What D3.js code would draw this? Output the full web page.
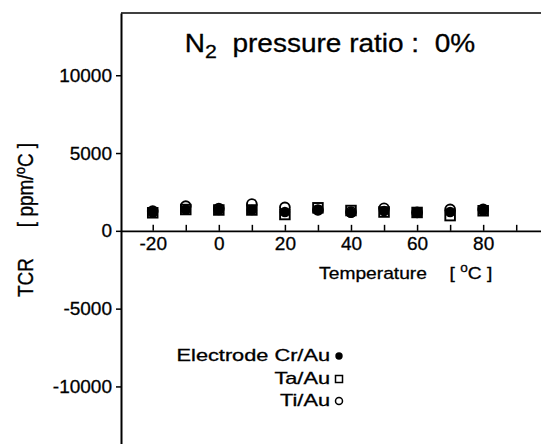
<!DOCTYPE html>
<html>
<head>
<meta charset="utf-8">
<script src="https://cdn.jsdelivr.net/npm/d3@7/dist/d3.min.js"></script>
<style>
  html, body { margin: 0; padding: 0; background: #fff; }
  svg { display: block; }
  text { font-family: "Liberation Sans", Arial, Helvetica, sans-serif; fill: #000;
         stroke: #000; stroke-width: 0.3px; white-space: pre; }
</style>
</head>
<body>
<svg id="chart" width="541" height="444"></svg>
<script>
// Measurement temperatures (°C)
const temps = [-20, -10, 0, 10, 20, 30, 40, 50, 60, 70, 80];
// TCR (ppm/°C) per electrode material
const tcrCrAu = [1180, 1370, 1340, 1340, 1210, 1340, 1160, 1270, 1160, 1210, 1290];
const tcrTaAu = [1160, 1370, 1340, 1340, 1050, 1480, 1305, 1210, 1180, 980, 1290];
const tcrTiAu = [1270, 1590, 1430, 1720, 1510, 1340, 1210, 1450, 1180, 1380, 1380];

const xTickValues = [-20, -10, 0, 10, 20, 30, 40, 50, 60, 70, 80, 90];
const xTickLabels = [-20, 0, 20, 40, 60, 80];
const yTickValues = [-10000, -5000, 0, 5000, 10000];

const seriesNames = ["Electrode Cr/Au", "Ta/Au", "Ti/Au"];

const svg = d3.select("#chart");

const x = d3.scaleLinear().domain([-29.6, 97.5]).range([121, 541]);
const y = d3.scaleLinear().domain([-13700, 14000]).range([444, 13]);

// helper: text drawn with a horizontal stretch
function stretchedText(parent, px, py, sx, size, anchor, content) {
  const g = parent.append("g").attr("transform", `translate(${px},${py}) scale(${sx},1)`);
  const t = g.append("text")
    .attr("text-anchor", anchor)
    .style("font-size", size + "px");
  if (content) t.text(content);
  return t;
}

// top frame line
svg.append("line")
  .attr("x1", x.range()[0]).attr("x2", x.range()[1])
  .attr("y1", y.range()[1]).attr("y2", y.range()[1])
  .attr("stroke", "#000").attr("stroke-width", 1.5);

// y axis
const yAxis = svg.append("g")
  .attr("transform", `translate(${x.range()[0]},0)`)
  .call(d3.axisLeft(y).tickValues(yTickValues).tickSize(5).tickSizeOuter(0)
    .tickPadding(4).tickFormat(d => String(d)));
yAxis.select(".domain").attr("stroke-width", 2);
yAxis.selectAll(".tick line").attr("stroke-width", 1.5);
yAxis.selectAll("text").style("font-size", "19px");
yAxis.attr("font-family", null).attr("font-size", null);

// x axis through zero, ticks pointing up, labels below
const xAxis = svg.append("g")
  .attr("transform", `translate(0,${y(0)})`)
  .call(d3.axisBottom(x).tickValues(xTickValues).tickSize(-6).tickSizeOuter(0)
    .tickPadding(6).tickFormat(d => xTickLabels.includes(d) ? String(d) : ""));
xAxis.select(".domain").attr("stroke-width", 1.6);
xAxis.selectAll(".tick line").attr("stroke-width", 1.5);
xAxis.selectAll("text").style("font-size", "19px");
xAxis.attr("font-family", null).attr("font-size", null);

// data markers
const pts = temps.map((t, i) => ({ t, cr: tcrCrAu[i], ta: tcrTaAu[i], ti: tcrTiAu[i] }));
const marks = svg.append("g");
marks.selectAll("circle.cr").data(pts).join("circle")
  .attr("class", "cr")
  .attr("cx", d => x(d.t)).attr("cy", d => y(d.cr)).attr("r", 5.3)
  .attr("fill", "#000");
marks.selectAll("rect.ta").data(pts).join("rect")
  .attr("class", "ta")
  .attr("x", d => x(d.t) - 4.8).attr("y", d => y(d.ta) - 4.8)
  .attr("width", 9.6).attr("height", 9.6)
  .attr("fill", "none").attr("stroke", "#000").attr("stroke-width", 1.9);
marks.selectAll("circle.ti").data(pts).join("circle")
  .attr("class", "ti")
  .attr("cx", d => x(d.t)).attr("cy", d => y(d.ti)).attr("r", 4.9)
  .attr("fill", "none").attr("stroke", "#000").attr("stroke-width", 1.9);

// title
const title = stretchedText(svg, 330, 52, 1.12, 25, "middle");
title.append("tspan").text("N");
title.append("tspan").text("2").style("font-size", "19px").attr("dy", 6);
title.append("tspan").text("  pressure ratio :  0%").attr("dy", -6);

// x axis title
stretchedText(svg, 373, 279, 1.13, 17, "middle", "Temperature");
const xu = stretchedText(svg, 471, 279, 1.13, 17, "middle");
xu.append("tspan").text("[ ");
xu.append("tspan").text("o").style("font-size", "12px").attr("dy", -7);
xu.append("tspan").text("C ]").attr("dy", 7);

// y axis title (rotated)
svg.append("g").attr("transform", "translate(33,277.5) scale(1.15,1) rotate(-90)")
  .append("text").attr("text-anchor", "middle").style("font-size", "19px").text("TCR");
const yt2 = svg.append("g").attr("transform", "translate(33,185) scale(1.15,1) rotate(-90)")
  .append("text").attr("text-anchor", "middle").style("font-size", "19px");
yt2.append("tspan").text("[ ppm/");
yt2.append("tspan").text("o").style("font-size", "13px").attr("dy", -7);
yt2.append("tspan").text("C ]").attr("dy", 7);

// legend
const legendRows = [
  { name: seriesNames[0], kind: "filled", ly: 356 },
  { name: seriesNames[1], kind: "square", ly: 379 },
  { name: seriesNames[2], kind: "open", ly: 401 }
];
legendRows.forEach(r => {
  stretchedText(svg, 330, r.ly + 5, 1.36, 16, "end", r.name);
  if (r.kind === "filled") {
    svg.append("circle").attr("cx", 339).attr("cy", r.ly).attr("r", 3.7).attr("fill", "#000");
  } else if (r.kind === "square") {
    svg.append("rect").attr("x", 339 - 3.5).attr("y", r.ly - 3.5).attr("width", 7).attr("height", 7)
      .attr("fill", "none").attr("stroke", "#000").attr("stroke-width", 1.5);
  } else {
    svg.append("circle").attr("cx", 339).attr("cy", r.ly).attr("r", 3.5)
      .attr("fill", "none").attr("stroke", "#000").attr("stroke-width", 1.5);
  }
});
</script>
</body>
</html>
